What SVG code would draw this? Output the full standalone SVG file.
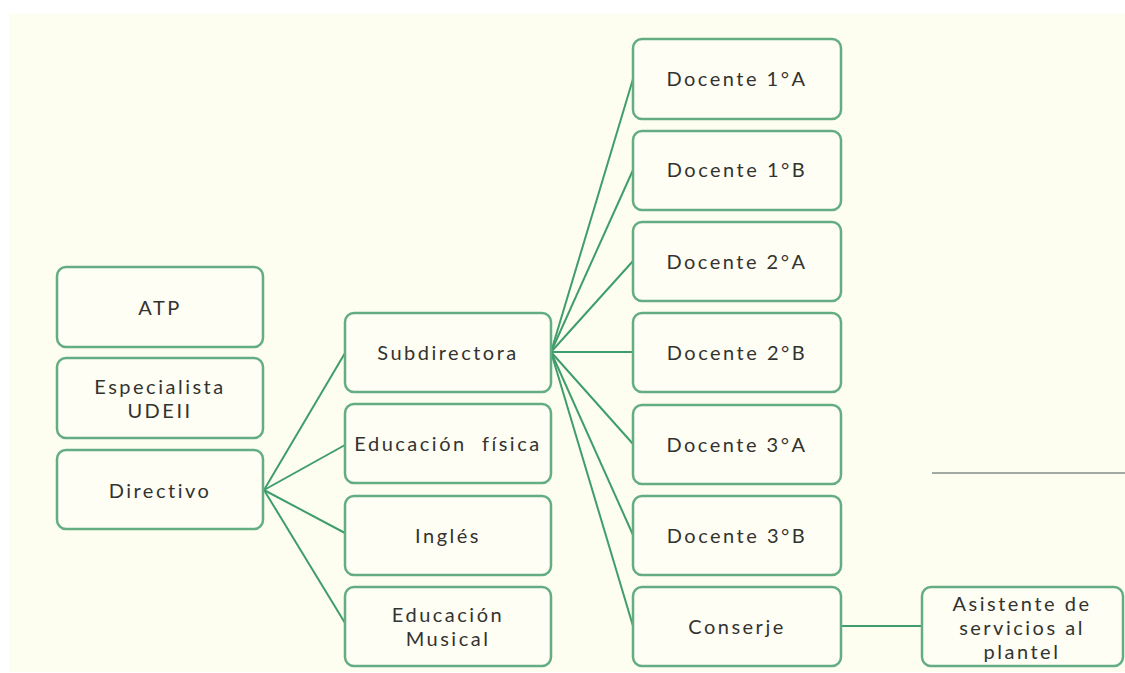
<svg xmlns="http://www.w3.org/2000/svg" width="1125" height="673" viewBox="0 0 1125 673">
<style>
.bg{fill:#fefef0}
.n rect{fill:#fefef5;stroke:#64ad82;stroke-width:2.5}
.n text{font-family:Lato,"Open Sans",sans-serif;font-size:20px;fill:#333330;text-anchor:middle;dominant-baseline:central;letter-spacing:2.5px}
#connectors line{stroke:#3f9d6c;stroke-width:2;fill:none}
</style>
<rect width="1125" height="673" fill="#ffffff"/>
<rect class="bg" x="9" y="14" width="1116" height="658"/>
<line x1="932" y1="473" x2="1125" y2="473" stroke="#a3aaa3" stroke-width="2"/>
<g id="connectors">
<line x1="264" y1="490" x2="345" y2="353"/>
<line x1="264" y1="490" x2="345" y2="445"/>
<line x1="264" y1="490" x2="345" y2="533"/>
<line x1="264" y1="490" x2="345" y2="623"/>
<line x1="551" y1="352" x2="633" y2="79"/>
<line x1="551" y1="352" x2="633" y2="170"/>
<line x1="551" y1="352" x2="633" y2="261"/>
<line x1="551" y1="352" x2="633" y2="352"/>
<line x1="551" y1="352" x2="633" y2="444"/>
<line x1="551" y1="352" x2="633" y2="535"/>
<line x1="551" y1="352" x2="633" y2="626"/>
<line x1="841" y1="626" x2="922" y2="626"/>
</g>
<g id="atp" class="n"><rect x="57" y="267" width="206" height="80" rx="9"/><text x="160" y="307">ATP</text></g>
<g id="especialista" class="n"><rect x="57" y="358" width="206" height="80" rx="9"/><text x="160" y="386">Especialista</text><text x="160" y="410">UDEII</text></g>
<g id="directivo" class="n"><rect x="57" y="450" width="206" height="79" rx="9"/><text x="160" y="490">Directivo</text></g>
<g id="subdirectora" class="n"><rect x="345" y="313" width="206" height="79" rx="9"/><text x="448" y="352">Subdirectora</text></g>
<g id="edfisica" class="n"><rect x="345" y="404" width="206" height="79" rx="9"/><text x="448" y="443" xml:space="preserve">Educación  física</text></g>
<g id="ingles" class="n"><rect x="345" y="496" width="206" height="79" rx="9"/><text x="448" y="535">Inglés</text></g>
<g id="edmusical" class="n"><rect x="345" y="587" width="206" height="79" rx="9"/><text x="448" y="614">Educación</text><text x="448" y="638">Musical</text></g>
<g id="d1a" class="n"><rect x="633" y="39" width="208" height="80" rx="9"/><text x="737" y="78">Docente 1°A</text></g>
<g id="d1b" class="n"><rect x="633" y="131" width="208" height="79" rx="9"/><text x="737" y="169">Docente 1°B</text></g>
<g id="d2a" class="n"><rect x="633" y="222" width="208" height="79" rx="9"/><text x="737" y="261">Docente 2°A</text></g>
<g id="d2b" class="n"><rect x="633" y="313" width="208" height="79" rx="9"/><text x="737" y="352">Docente 2°B</text></g>
<g id="d3a" class="n"><rect x="633" y="405" width="208" height="79" rx="9"/><text x="737" y="444">Docente 3°A</text></g>
<g id="d3b" class="n"><rect x="633" y="496" width="208" height="79" rx="9"/><text x="737" y="535">Docente 3°B</text></g>
<g id="conserje" class="n"><rect x="633" y="587" width="208" height="79" rx="9"/><text x="737" y="626">Conserje</text></g>
<g id="asistente" class="n"><rect x="922" y="587" width="201" height="79" rx="9"/><text x="1022" y="603">Asistente de</text><text x="1022" y="627">servicios al</text><text x="1022" y="651">plantel</text></g>
</svg>
